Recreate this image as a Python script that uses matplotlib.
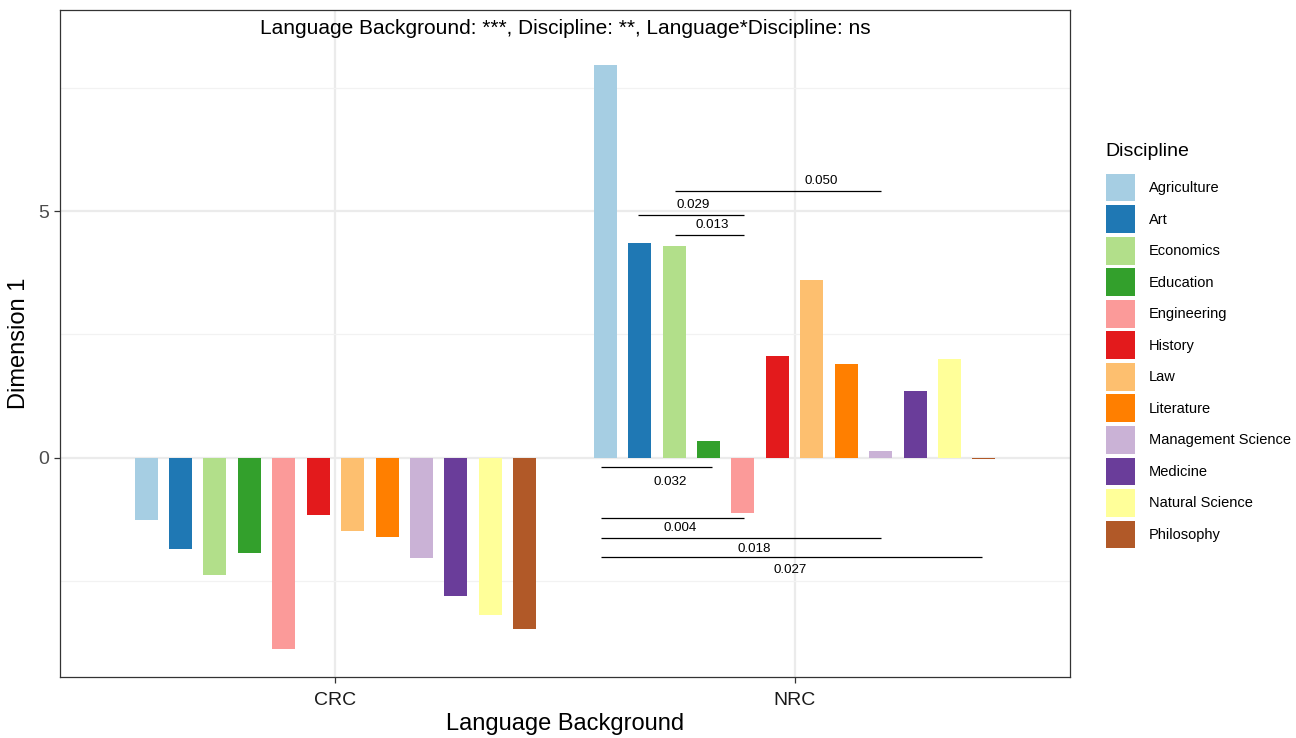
import matplotlib
matplotlib.use("Agg")
import matplotlib.pyplot as plt
from matplotlib.patches import Patch
import numpy as np

plt.rcParams['font.family'] = ['Liberation Sans', 'DejaVu Sans']

# ---- data ----
groups = ["CRC", "NRC"]
disciplines = ["Agriculture", "Art", "Economics", "Education", "Engineering",
               "History", "Law", "Literature", "Management Science",
               "Medicine", "Natural Science", "Philosophy"]
crc_values = [-1.26, -1.85, -2.39, -1.93, -3.89, -1.16, -1.49, -1.62,
              -2.03, -2.80, -3.19, -3.47]
nrc_values = [7.96, 4.35, 4.29, 0.33, -1.13, 2.06, 3.60, 1.90,
              0.14, 1.35, 2.00, -0.03]
colors = ["#A6CEE3", "#1F78B4", "#B2DF8A", "#33A02C", "#FB9A99", "#E31A1C",
          "#FDBF6F", "#FF7F00", "#CAB2D6", "#6A3D9A", "#FFFF99", "#B15928"]

# pairwise comparison brackets: (x start, x end, line y, label x, label y, label)
bracket_x0 = [1.740, 1.659, 1.740, 1.579, 1.579, 1.579, 1.579]
bracket_x1 = [2.189, 1.889, 1.889, 1.820, 1.889, 2.189, 2.408]
bracket_y = [5.40, 4.93, 4.52, -0.20, -1.22, -1.64, -2.02]
label_x = [2.059, 1.779, 1.820, 1.729, 1.751, 1.913, 1.991]
label_y = [5.62, 5.12, 4.72, -0.49, -1.42, -1.85, -2.27]
p_labels = ["0.050", "0.029", "0.013", "0.032", "0.004", "0.018", "0.027"]

title_text = "Language Background: ***, Discipline: **, Language*Discipline: ns"

# ---- figure ----
fig = plt.figure(figsize=(12.96, 7.38), dpi=100)
ax = fig.add_axes([60 / 1296, 61 / 738, 1010 / 1296, 667 / 738])

n = len(disciplines)
dodge = 0.9
bar_w = 0.6 / n
slot = dodge / n
xpos = np.arange(1, len(groups) + 1)
values = np.array([crc_values, nrc_values])
for i, (d, c) in enumerate(zip(disciplines, colors)):
    offs = -dodge / 2 + slot * (i + 0.5)
    ax.bar(xpos + offs, values[:, i], width=bar_w, color=c, label=d,
           linewidth=0, zorder=3)

# brackets with p-values
for x0, x1, y, lx, ly, lab in zip(bracket_x0, bracket_x1, bracket_y,
                                  label_x, label_y, p_labels):
    ax.plot([x0, x1], [y, y], color="black", lw=0.9, zorder=4,
            solid_capstyle="butt")
    ax.text(lx, ly, lab, ha="center", va="center", fontsize=9.6,
            color="black", zorder=5)

ax.text(1.5, 8.70, title_text, ha="center", va="center", fontsize=15,
        color="black", zorder=5)

ax.set_xlim(0.4, 2.6)
ax.set_ylim(-4.45, 9.08)
ax.set_xticks(xpos)
ax.set_xticklabels(groups)
ax.set_yticks([0, 5])
ax.set_yticks([-2.5, 2.5, 7.5], minor=True)

ax.grid(True, which="major", color="#EBEBEB", lw=1.6, zorder=0)
ax.grid(True, which="minor", axis="y", color="#F2F2F2", lw=0.9, zorder=0)
ax.set_axisbelow(True)

for s in ax.spines.values():
    s.set_color("#333333")
    s.set_linewidth(0.9)
ax.tick_params(axis="both", which="major", length=4, width=0.9,
               color="#333333", labelcolor="#4D4D4D", labelsize=14, pad=4)
ax.tick_params(axis="x", which="major", labelcolor="#1A1A1A", pad=7)
ax.tick_params(axis="both", which="minor", length=0)

ax.set_xlabel("Language Background", fontsize=17, color="black", labelpad=3)
ax.set_ylabel("Dimension 1", fontsize=17, color="black", labelpad=6)

handles = [Patch(facecolor=c, edgecolor="none") for c in colors]
leg = fig.legend(handles, disciplines, title="Discipline",
                 loc="upper left", bbox_to_anchor=(1100 / 1296, 1 - 137 / 738),
                 frameon=False, fontsize=10.5, title_fontsize=14,
                 handlelength=2.0, handleheight=2.55, labelspacing=0.26,
                 handletextpad=0.95, borderaxespad=0, borderpad=0.4)
leg._legend_box.align = "left"
leg._legend_box.sep = 10.0

fig.savefig("out.png", dpi=100, facecolor="white")
